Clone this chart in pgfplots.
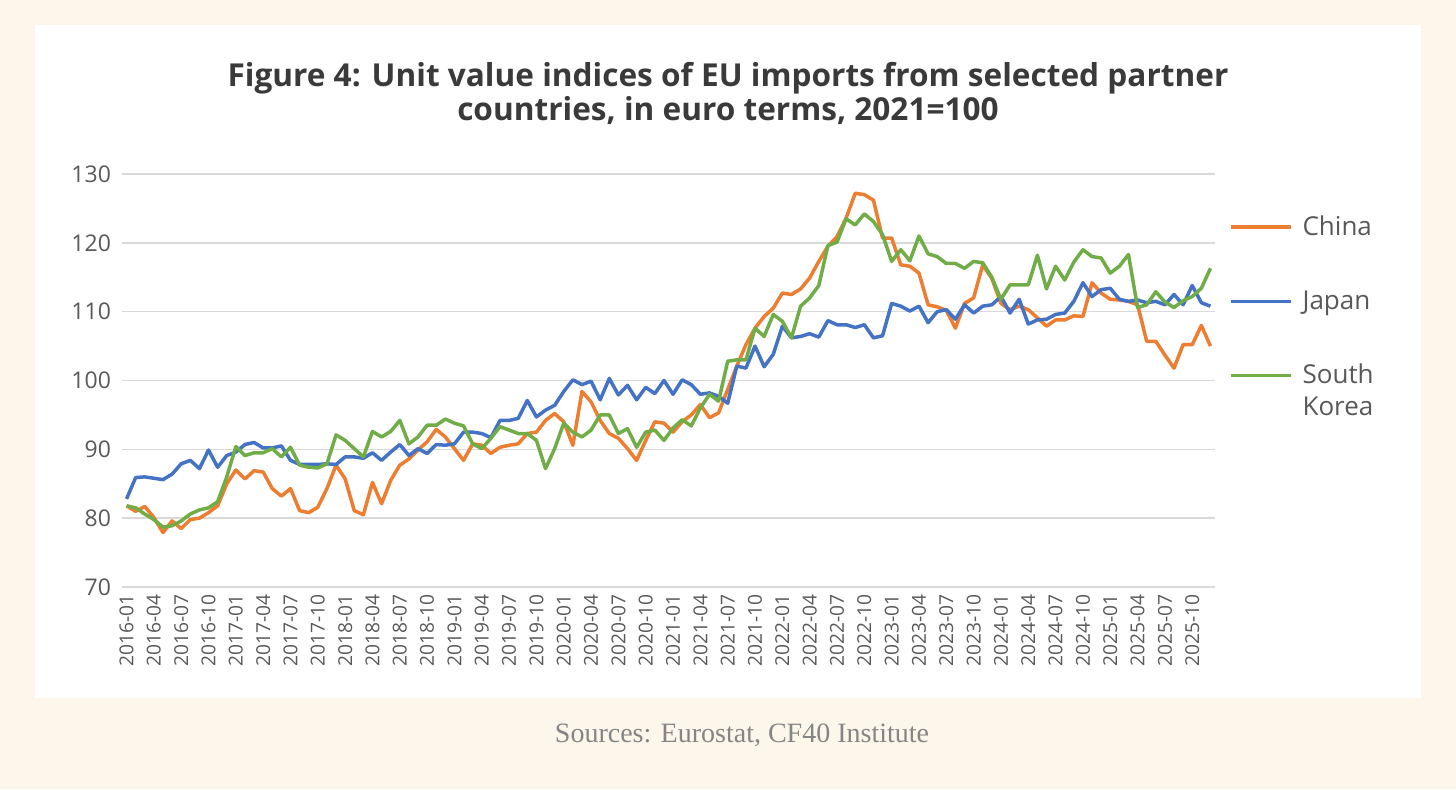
\documentclass[border=0pt]{standalone}
\usepackage{pgfplots}
\pgfplotsset{compat=1.18}
\usepackage{pgfplotstable}
\usepackage{fontspec}
\setmainfont{Open Sans}
\newfontfamily\srcfont{Liberation Serif}
\definecolor{bgc}{HTML}{FDF6EB}
\definecolor{cChina}{HTML}{ED7D31}
\definecolor{cJapan}{HTML}{4472C4}
\definecolor{cKorea}{HTML}{70AD47}
\definecolor{tick}{HTML}{595959}
\definecolor{ttl}{HTML}{3A3A3A}
\definecolor{grd}{HTML}{D9D9D9}
\pgfplotstableread{
i China Japan Korea
0 81.8 82.8 81.8
1 81.0 85.9 81.5
2 81.7 86.0 80.6
3 80.1 85.8 79.8
4 77.9 85.6 78.7
5 79.6 86.4 78.9
6 78.5 87.9 79.6
7 79.8 88.4 80.6
8 80.0 87.2 81.2
9 80.8 89.9 81.5
10 81.8 87.4 82.4
11 85.0 89.1 86.0
12 87.0 89.6 90.4
13 85.7 90.7 89.1
14 86.9 91.0 89.5
15 86.7 90.2 89.5
16 84.3 90.2 90.1
17 83.2 90.5 88.9
18 84.3 88.4 90.3
19 81.1 87.8 87.7
20 80.8 87.8 87.4
21 81.6 87.8 87.3
22 84.3 87.9 87.9
23 87.7 87.8 92.1
24 85.7 88.9 91.3
25 81.1 88.9 90.1
26 80.5 88.7 88.9
27 85.2 89.5 92.6
28 82.1 88.4 91.8
29 85.5 89.6 92.6
30 87.7 90.7 94.2
31 88.6 89.1 90.8
32 89.9 90.1 91.8
33 91.1 89.4 93.5
34 92.9 90.7 93.5
35 91.8 90.6 94.4
36 90.1 90.8 93.8
37 88.4 92.5 93.4
38 90.8 92.5 90.8
39 90.6 92.3 90.1
40 89.4 91.7 91.6
41 90.3 94.2 93.3
42 90.6 94.2 92.8
43 90.8 94.5 92.3
44 92.3 97.1 92.3
45 92.5 94.7 91.3
46 94.2 95.7 87.2
47 95.2 96.4 90.1
48 94.0 98.4 93.8
49 90.6 100.1 92.5
50 98.4 99.4 91.8
51 96.9 99.9 92.8
52 94.2 97.2 95.0
53 92.3 100.3 95.0
54 91.6 97.9 92.3
55 90.1 99.3 93.0
56 88.4 97.2 90.3
57 91.3 99.0 92.5
58 94.0 98.1 92.8
59 93.8 100.0 91.3
60 92.5 98.0 93.1
61 94.0 100.1 94.3
62 95.0 99.4 93.4
63 96.5 98.0 96.0
64 94.6 98.2 98.0
65 95.3 97.7 97.0
66 98.7 96.7 102.8
67 102.1 102.1 103.0
68 105.2 101.8 103.0
69 107.6 105.0 107.6
70 109.3 102.0 106.4
71 110.5 103.8 109.6
72 112.7 107.9 108.6
73 112.5 106.2 106.2
74 113.3 106.4 110.8
75 114.9 106.8 112.0
76 117.3 106.3 113.8
77 119.5 108.7 119.6
78 120.9 108.1 120.1
79 123.6 108.1 123.5
80 127.2 107.7 122.6
81 127.0 108.1 124.2
82 126.2 106.2 123.1
83 120.7 106.5 121.2
84 120.7 111.2 117.3
85 116.8 110.8 119.0
86 116.6 110.1 117.4
87 115.6 110.8 121.0
88 111.0 108.4 118.4
89 110.7 110.0 118.0
90 110.2 110.3 117.0
91 107.6 108.9 117.0
92 111.2 111.0 116.3
93 112.0 109.8 117.3
94 116.8 110.8 117.1
95 114.8 111.0 115.0
96 111.2 112.2 111.8
97 110.3 109.8 113.9
98 110.8 111.8 113.9
99 110.3 108.2 113.9
100 109.1 108.8 118.2
101 107.9 108.9 113.3
102 108.8 109.6 116.6
103 108.8 109.8 114.6
104 109.4 111.5 117.2
105 109.3 114.2 119.0
106 114.2 112.2 118.0
107 112.7 113.2 117.8
108 111.8 113.4 115.6
109 111.7 111.8 116.6
110 111.5 111.5 118.3
111 111.0 111.7 110.6
112 105.7 111.3 111.0
113 105.7 111.5 112.9
114 103.7 111.0 111.4
115 101.8 112.5 110.6
116 105.2 111.0 111.6
117 105.2 113.8 112.2
118 108.0 111.3 113.4
119 105.0 110.8 116.3
}\datatable
\begin{document}
\begin{tikzpicture}
\fill[bgc] (0,0) rectangle (728pt,394.5pt);
\fill[white] (17.5pt,45.5pt) rectangle (710.5pt,382pt);
\node[font=\fontsize{15.8}{17}\selectfont\bfseries, text=ttl, align=center] at (364pt,348pt) {Figure 4: Unit value indices of EU imports from selected partner\\countries, in euro terms, 2021=100};
\node[font=\srcfont\fontsize{14}{16}\selectfont, text=black!48] at (371pt,27pt) {Sources: Eurostat, CF40 Institute};
\begin{axis}[
  at={(61pt,101pt)}, anchor=south west,
  width=546.5pt, height=206.5pt, scale only axis,
  xmin=-0.5, xmax=119.5, ymin=70, ymax=130,
  ytick={70,80,...,130},
  xtick={0,3,...,117},
  xticklabels={2016-01,2016-04,2016-07,2016-10,2017-01,2017-04,2017-07,2017-10,2018-01,2018-04,2018-07,2018-10,2019-01,2019-04,2019-07,2019-10,2020-01,2020-04,2020-07,2020-10,2021-01,2021-04,2021-07,2021-10,2022-01,2022-04,2022-07,2022-10,2023-01,2023-04,2023-07,2023-10,2024-01,2024-04,2024-07,2024-10,2025-01,2025-04,2025-07,2025-10},
  /pgf/number format/assume math mode=true,
  axis line style={draw=none},
  tick style={draw=none},
  ymajorgrids, grid style={grd, line width=0.75pt},
  yticklabel style={font=\fontsize{11.5}{13}\selectfont, text=tick, xshift=-2pt},
  xticklabel style={font=\fontsize{9.6}{11}\selectfont, text=tick, rotate=90, anchor=east, xshift=0pt},
  clip=false,
  legend style={at={(1.007,0.919)}, anchor=north west, draw=none, fill=none,
    font=\fontsize{13}{16}\selectfont, text=tick, row sep=22pt, column sep=3pt},
  legend cell align=left,
  legend image code/.code={\draw[#1] (0pt,0pt) -- (30pt,0pt);},
]
\addplot[cChina, line width=1.75pt, line join=round] table[x=i, y=China] {\datatable};
\addlegendentry{China}
\addplot[cJapan, line width=1.75pt, line join=round] table[x=i, y=Japan] {\datatable};
\addlegendentry{Japan}
\addplot[cKorea, line width=1.75pt, line join=round] table[x=i, y=Korea] {\datatable};
\addlegendentry{\rlap{\smash{\vtop{\hbox{South}\hbox{Korea}}}}\phantom{South}}
\end{axis}
\end{tikzpicture}
\end{document}
